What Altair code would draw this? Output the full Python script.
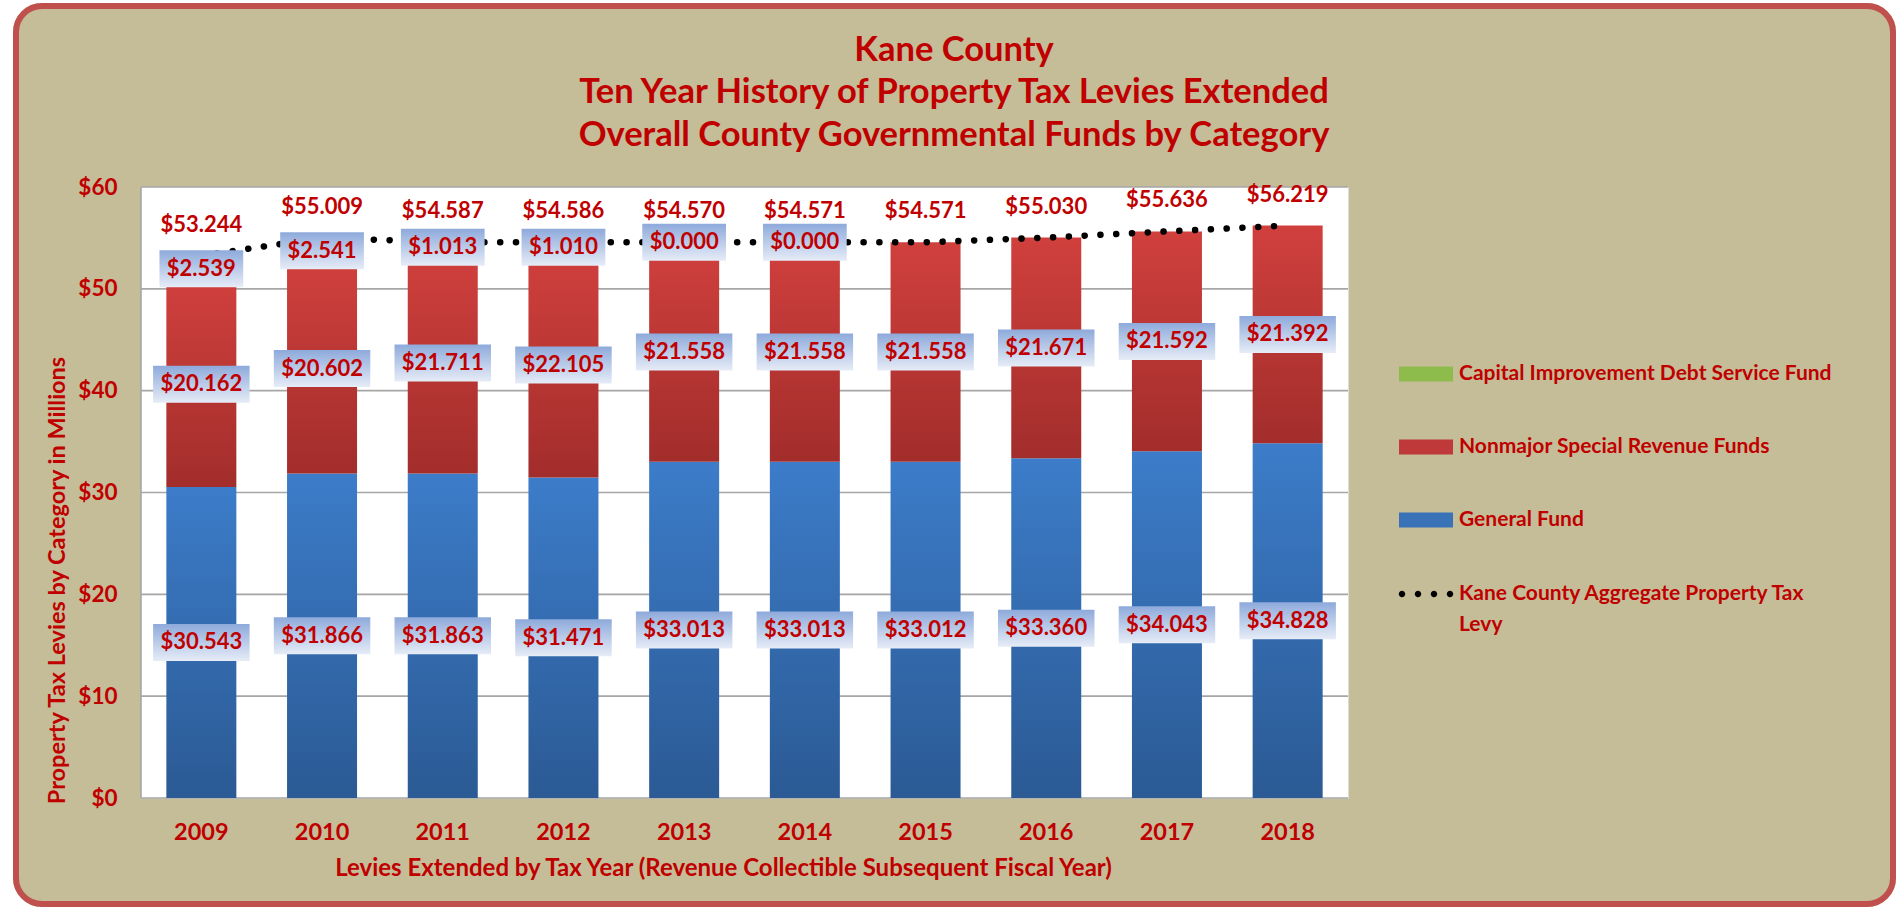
import altair as alt
import pandas as pd

# ---------------- data ----------------
YEARS = ["2009", "2010", "2011", "2012", "2013", "2014", "2015", "2016", "2017", "2018"]
GENERAL = [30.543, 31.866, 31.863, 31.471, 33.013, 33.013, 33.012, 33.360, 34.043, 34.828]
NONMAJOR = [20.162, 20.602, 21.711, 22.105, 21.558, 21.558, 21.558, 21.671, 21.592, 21.392]
CAPITAL = [2.539, 2.541, 1.013, 1.010, 0.000, 0.000, None, None, None, None]
AGGREGATE = [53.244, 55.009, 54.587, 54.586, 54.570, 54.571, 54.571, 55.030, 55.636, 56.219]
Y_TICKS = [0, 10, 20, 30, 40, 50, 60]

SERIES = ["Capital Improvement Debt Service Fund", "Nonmajor Special Revenue Funds", "General Fund"]
LEVY_NAME = "Kane County Aggregate Property Tax Levy"
TITLE_LINES = ["Kane County",
               "Ten Year History of Property Tax Levies Extended",
               "Overall County Governmental Funds by Category"]
X_TITLE = "Levies Extended by Tax Year (Revenue Collectible Subsequent Fiscal Year)"
Y_TITLE = "Property Tax Levies by Category in Millions"

# ---------------- styling ----------------
W, H = 1207, 611
PAD = {"left": 141, "top": 187, "right": 548, "bottom": 109}
RED_TXT = "#C00000"
BEIGE = "#C4BD97"
BORDER = "#C0504D"
GRID = "#A6A6A6"
FONT = "Lato"
BOX_HALF = 18.5 * 60 / H   # half label-box height (px -> data units)


def vgrad(top, bottom):
    return alt.Gradient(gradient="linear",
                        stops=[alt.GradientStop(color=top, offset=0),
                               alt.GradientStop(color=bottom, offset=1)],
                        x1=0, x2=0, y1=0, y2=1)


SWATCH = "M-1,-0.28H1V0.28H-1Z"
r, cy = 0.12, 0.0
DOTS = "".join(f"M{cx - r:.3f},{cy}a{r},{r} 0 1,0 {2 * r},0a{r},{r} 0 1,0 {-2 * r},0Z"
               for cx in (-0.889, -0.296, 0.296, 0.889))

# ---------------- tables ----------------
rows = []
for i, yr in enumerate(YEARS):
    g, n, c = GENERAL[i], NONMAJOR[i], CAPITAL[i]
    rows.append({"year": yr, "series": SERIES[2], "lo": 0.0, "hi": g, "value": g})
    rows.append({"year": yr, "series": SERIES[1], "lo": g, "hi": g + n, "value": n})
    if c is not None:
        rows.append({"year": yr, "series": SERIES[0], "lo": g + n, "hi": g + n + c, "value": c})
long_df = pd.DataFrame(rows)
wide_df = pd.DataFrame({"year": YEARS, "aggregate": AGGREGATE})
grid_df = pd.DataFrame({"tick": Y_TICKS})
one = pd.DataFrame({"k": [0]})

Y_SCALE = alt.Scale(domain=[0, 60], nice=False)
X_SCALE = alt.Scale(domain=YEARS, paddingInner=0, paddingOuter=0)

Y_AXIS = alt.Axis(values=Y_TICKS, labelExpr="'$' + datum.value", grid=False, ticks=False, domain=False,
                  labelFont=FONT, labelFontWeight="bold", labelFontSize=22.5, labelColor=RED_TXT,
                  labelPadding=24, title=Y_TITLE, titleFont=FONT, titleFontWeight="bold",
                  titleFontSize=23.5, titleColor=RED_TXT, titleAngle=270, titleAlign="center",
                  titleBaseline="middle", titleX=-84, titleY=393, zindex=1)
X_AXIS = alt.Axis(labelAngle=0, ticks=False, domain=False, grid=False, labelFont=FONT, labelFontWeight="bold",
                  labelFontSize=23.5, labelColor=RED_TXT, labelBaseline="middle", labelPadding=34,
                  title=X_TITLE, titleFont=FONT, titleFontWeight="bold", titleFontSize=24,
                  titleColor=RED_TXT, titleX=582, titleY=70, titleBaseline="middle", zindex=1)


def ypos(field):
    return alt.Y(field, scale=Y_SCALE, axis=Y_AXIS)


X_FULL = alt.X("year:N", scale=X_SCALE, axis=X_AXIS)

# ---------------- layers ----------------
# white surround outside the rounded frame, then the red rounded frame
white_frame = alt.Chart(one).mark_rect(fillOpacity=0, stroke="white", strokeWidth=34, cornerRadius=46).encode(
    x=alt.value(-145), x2=alt.value(1772), y=alt.value(-201), y2=alt.value(737))
red_frame = alt.Chart(one).mark_rect(fillOpacity=0, stroke=BORDER, strokeWidth=6, cornerRadius=26).encode(
    x=alt.value(-125), x2=alt.value(1752), y=alt.value(-181), y2=alt.value(717))

plot_bg = alt.Chart(one).mark_rect(fill="white").encode(
    x=alt.value(0), x2=alt.value(W), y=alt.value(0), y2=alt.value(H))

grid = alt.Chart(grid_df).mark_rule(color=GRID, strokeWidth=1.6).encode(
    y=ypos("tick:Q"), x=alt.value(0), x2=alt.value(W))

left_line = alt.Chart(one).mark_rule(color=GRID, strokeWidth=1.6).encode(
    x=alt.value(0), y=alt.value(0), y2=alt.value(H))

base_long = alt.Chart(long_df)

bar_general = base_long.transform_filter(alt.datum.series == SERIES[2]).mark_bar(
    size=70, fill=vgrad("#3C7CC9", "#2B5A94")).encode(
    x=X_FULL, y=ypos("lo:Q"), y2="hi:Q")

bar_nonmajor = base_long.transform_filter(alt.datum.series == SERIES[1]).mark_bar(
    size=70, fill=vgrad("#D0403D", "#A22D2B")).encode(
    x=X_FULL, y=ypos("lo:Q"), y2="hi:Q")

bar_capital = base_long.transform_filter(alt.datum.series == SERIES[0]).mark_bar(
    size=70, fill=vgrad("#9BC850", "#76A03A")).encode(
    x=X_FULL, y=ypos("lo:Q"), y2="hi:Q")

levy_line = alt.Chart(wide_df).mark_line(
    color="black", strokeWidth=6.5, strokeDash=[0.1, 15.7], strokeCap="round").encode(
    x=X_FULL, y=ypos("aggregate:Q"))

labelled = base_long.transform_calculate(
    mid="(datum.lo + datum.hi) / 2",
    label="'$' + format(datum.value, '.3f')",
).transform_calculate(
    b0=f"datum.mid - {BOX_HALF}",
    b1=f"datum.mid + {BOX_HALF}",
    boxw="((length(datum.label) - 1) * 0.58 + 0.27) * 22 + 14",
)

boxes = labelled.mark_bar(fill=vgrad("#8EAADB", "#E6ECF7")).encode(
    x=X_FULL, y=ypos("b0:Q"), y2="b1:Q",
    size=alt.Size("boxw:Q", scale=None, legend=None))

box_text = labelled.mark_text(font=FONT, fontWeight="bold", fontSize=22, color=RED_TXT,
                              baseline="middle").encode(
    x=X_FULL, y=ypos("mid:Q"), text="label:N")

total_text = alt.Chart(wide_df).transform_calculate(
    label="'$' + format(datum.aggregate, '.3f')").mark_text(
    font=FONT, fontWeight="bold", fontSize=22, color=RED_TXT, baseline="middle", dy=-31).encode(
    x=X_FULL, y=ypos("aggregate:Q"), text="label:N")

title_text = alt.Chart(one).mark_text(
    text=TITLE_LINES, font=FONT, fontWeight="bold", fontSize=34.5, color=RED_TXT,
    align="center", baseline="middle", lineHeight=42.5).encode(
    x=alt.value(813), y=alt.value(-136.5))

legend_common = dict(orient="none", legendX=1258, title=None, padding=0, symbolStrokeWidth=0,
                     symbolOpacity=1, symbolSize=2916, labelFont=FONT, labelFontWeight="bold",
                     labelFontSize=21, labelColor=RED_TXT, labelLimit=800, labelOffset=6, zindex=1)

legend_bars = base_long.mark_point(filled=True, opacity=0).encode(
    x=X_FULL, y=ypos("hi:Q"),
    color=alt.Color("series:N",
                    scale=alt.Scale(domain=SERIES, range=["#8DBB4C", "#C0393A", "#3A72B8"]),
                    legend=alt.Legend(legendY=160, symbolType=SWATCH, rowPadding=36, **legend_common)))

legend_line = alt.Chart(wide_df).transform_calculate(levy=f"'{LEVY_NAME}'").mark_point(
    filled=True, opacity=0, color="black").encode(
    x=X_FULL, y=ypos("aggregate:Q"),
    shape=alt.Shape("levy:N", scale=alt.Scale(range=[DOTS]),
                    legend=alt.Legend(legendY=380, labelExpr="[replace(datum.label, ' Levy', ''), 'Levy']",
                                      **legend_common)))

chart = alt.layer(
    white_frame, red_frame, plot_bg, grid, left_line, bar_general, bar_nonmajor, bar_capital, levy_line,
    boxes, box_text, total_text, title_text, legend_bars, legend_line
).resolve_legend(color="independent", shape="independent").properties(
    width=W, height=H, background=BEIGE, padding=PAD,
    autosize=alt.AutoSizeParams(type="none"),
).configure_view(stroke=None).configure(style={"guide-label": {"lineHeight": 31}})

chart.save("out.html", embed_options={"renderer": "svg", "actions": False})
